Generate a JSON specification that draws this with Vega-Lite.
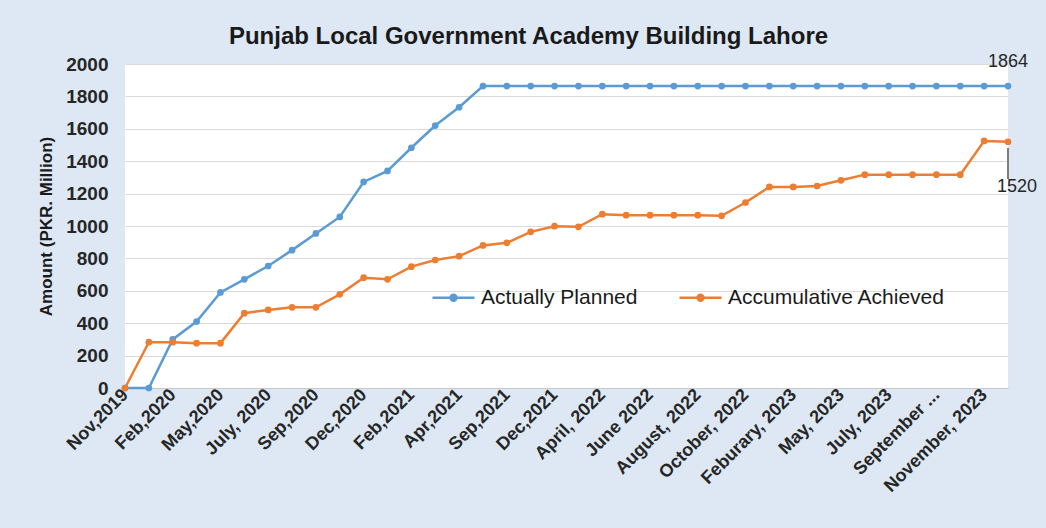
{
  "$schema": "https://vega.github.io/schema/vega-lite/v6.json",
  "width": 883,
  "height": 324,
  "autosize": {"type": "none"},
  "padding": {"left": 125, "top": 64, "right": 38, "bottom": 140},
  "background": "#dde8f4",
  "title": {
    "text": "Punjab Local Government Academy Building Lahore",
    "font": "Liberation Sans",
    "fontSize": 24,
    "fontWeight": "bold",
    "color": "#1a1a1a",
    "anchor": "middle",
    "dx": -38,
    "offset": 4
  },
  "config": {
    "view": {"fill": "white", "stroke": null},
    "font": "Liberation Sans"
  },
  "data": {
    "values": [
      {"month": "Nov,2019", "Actually Planned": 0, "Accumulative Achieved": 0},
      {"month": "Dec,2019", "Actually Planned": 0, "Accumulative Achieved": 283},
      {"month": "Feb,2020", "Actually Planned": 300, "Accumulative Achieved": 283},
      {"month": "Mar,2020", "Actually Planned": 410, "Accumulative Achieved": 277},
      {"month": "May,2020", "Actually Planned": 590, "Accumulative Achieved": 277},
      {"month": "June,2020", "Actually Planned": 671, "Accumulative Achieved": 462},
      {"month": "July, 2020", "Actually Planned": 753, "Accumulative Achieved": 482},
      {"month": "Aug,2020", "Actually Planned": 851, "Accumulative Achieved": 498},
      {"month": "Sep,2020", "Actually Planned": 954, "Accumulative Achieved": 498},
      {"month": "Oct,2020", "Actually Planned": 1056, "Accumulative Achieved": 578},
      {"month": "Dec,2020", "Actually Planned": 1272, "Accumulative Achieved": 681},
      {"month": "Jan,2021", "Actually Planned": 1340, "Accumulative Achieved": 671},
      {"month": "Feb,2021", "Actually Planned": 1483, "Accumulative Achieved": 749},
      {"month": "Mar,2021", "Actually Planned": 1620, "Accumulative Achieved": 790},
      {"month": "Apr,2021", "Actually Planned": 1733, "Accumulative Achieved": 814},
      {"month": "Jun,2021", "Actually Planned": 1864, "Accumulative Achieved": 880},
      {"month": "Sep,2021", "Actually Planned": 1864, "Accumulative Achieved": 896},
      {"month": "Oct,2021", "Actually Planned": 1864, "Accumulative Achieved": 964},
      {"month": "Dec,2021", "Actually Planned": 1864, "Accumulative Achieved": 999},
      {"month": "Feb,2022", "Actually Planned": 1864, "Accumulative Achieved": 995},
      {"month": "April, 2022", "Actually Planned": 1864, "Accumulative Achieved": 1073},
      {"month": "May, 2022", "Actually Planned": 1864, "Accumulative Achieved": 1067},
      {"month": "June 2022", "Actually Planned": 1864, "Accumulative Achieved": 1067},
      {"month": "July, 2022", "Actually Planned": 1864, "Accumulative Achieved": 1067},
      {"month": "August, 2022", "Actually Planned": 1864, "Accumulative Achieved": 1067},
      {"month": "September, 2022", "Actually Planned": 1864, "Accumulative Achieved": 1063},
      {"month": "October, 2022", "Actually Planned": 1864, "Accumulative Achieved": 1145},
      {"month": "December, 2022", "Actually Planned": 1864, "Accumulative Achieved": 1241},
      {"month": "Feburary, 2023", "Actually Planned": 1864, "Accumulative Achieved": 1241},
      {"month": "April, 2023", "Actually Planned": 1864, "Accumulative Achieved": 1247},
      {"month": "May, 2023", "Actually Planned": 1864, "Accumulative Achieved": 1282},
      {"month": "June, 2023", "Actually Planned": 1864, "Accumulative Achieved": 1317},
      {"month": "July, 2023", "Actually Planned": 1864, "Accumulative Achieved": 1317},
      {"month": "August, 2023", "Actually Planned": 1864, "Accumulative Achieved": 1317},
      {"month": "September, 2023", "Actually Planned": 1864, "Accumulative Achieved": 1317},
      {"month": "October, 2023", "Actually Planned": 1864, "Accumulative Achieved": 1317},
      {"month": "November, 2023", "Actually Planned": 1864, "Accumulative Achieved": 1525},
      {"month": "December, 2023", "Actually Planned": 1864, "Accumulative Achieved": 1520}
    ]
  },
  "transform": [
    {"window": [{"op": "row_number", "as": "idx"}]},
    {"fold": ["Actually Planned", "Accumulative Achieved"], "as": ["series", "value"]}
  ],
  "encoding": {
    "x": {
      "field": "month",
      "type": "ordinal",
      "sort": {"field": "idx"},
      "scale": {"type": "point", "padding": 0},
      "axis": {
        "title": null,
        "values": ["Nov,2019", "Feb,2020", "May,2020", "July, 2020", "Sep,2020", "Dec,2020", "Feb,2021", "Apr,2021", "Sep,2021", "Dec,2021", "April, 2022", "June 2022", "August, 2022", "October, 2022", "Feburary, 2023", "May, 2023", "July, 2023", "September, 2023", "November, 2023"],
        "labelExpr": "datum.value == 'September, 2023' ? 'September ...' : datum.value",
        "labelAngle": -45,
        "labelAlign": "right",
        "labelBaseline": "middle",
        "labelFontSize": 18,
        "labelFontWeight": "bold",
        "labelColor": "#262626",
        "labelPadding": 4,
        "labelLimit": 300,
        "ticks": false,
        "grid": false,
        "domain": true,
        "domainColor": "#c8c8c8",
        "labelOverlap": false
      }
    },
    "y": {
      "field": "value",
      "type": "quantitative",
      "scale": {"domain": [0, 2000]},
      "axis": {
        "title": "Amount (PKR. Million)",
        "titleFontSize": 17,
        "titleFontWeight": "bold",
        "titleColor": "#1a1a1a",
        "titlePadding": 10,
        "values": [0, 200, 400, 600, 800, 1000, 1200, 1400, 1600, 1800, 2000],
        "format": "d",
        "labelFontSize": 19,
        "labelFontWeight": "bold",
        "labelColor": "#262626",
        "labelPadding": 17,
        "ticks": false,
        "domain": false,
        "gridColor": "#d9d9d9",
        "gridWidth": 1
      }
    },
    "color": {
      "field": "series",
      "type": "nominal",
      "scale": {"domain": ["Actually Planned", "Accumulative Achieved"], "range": ["#5b9bd5", "#ed7d31"]},
      "legend": {
        "title": null,
        "orient": "none",
        "direction": "horizontal",
        "legendX": 306,
        "legendY": 211,
        "padding": 0,
        "symbolType": "M-1,0L1,0M-0.14,0A0.14,0.14,0,1,1,0.14,0A0.14,0.14,0,1,1,-0.14,0",
        "symbolSize": 1764,
        "symbolStrokeWidth": 2.5,
        "labelFontSize": 21,
        "labelLimit": 400,
        "labelColor": "#1a1a1a",
        "labelOffset": 5,
        "columnPadding": 36
      }
    }
  },
  "layer": [
    {
      "mark": {"type": "line", "strokeWidth": 2.5, "point": {"filled": true, "size": 45}}
    },
    {
      "transform": [{"filter": "datum.month == 'December, 2023' && datum.series == 'Actually Planned'"}],
      "mark": {"type": "text", "dy": -24, "fontSize": 18, "color": "#262626"},
      "encoding": {"text": {"field": "value", "type": "quantitative"}, "color": {"value": "#262626"}}
    },
    {
      "transform": [{"filter": "datum.month == 'December, 2023' && datum.series == 'Accumulative Achieved'"}],
      "mark": {"type": "text", "dy": 45, "dx": 9, "fontSize": 18, "color": "#262626"},
      "encoding": {"text": {"field": "value", "type": "quantitative"}, "color": {"value": "#262626"}}
    },
    {
      "mark": {"type": "rule", "color": "#7f7f7f", "strokeWidth": 0.8},
      "encoding": {
        "x": {"datum": "December, 2023"},
        "y": {"datum": 1480},
        "y2": {"datum": 1295},
        "color": {"value": "#7f7f7f"}
      }
    }
  ]
}
